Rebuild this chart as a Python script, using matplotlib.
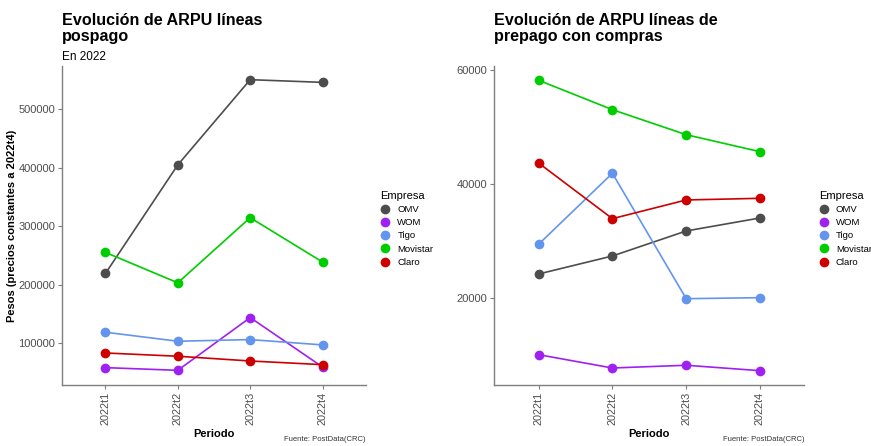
import matplotlib.pyplot as plt
from matplotlib.lines import Line2D

plt.rcParams['font.family'] = ['Liberation Sans', 'DejaVu Sans']

periodos = ["2022t1", "2022t2", "2022t3", "2022t4"]
empresas = ["OMV", "WOM", "Tigo", "Movistar", "Claro"]
colores = ["#4D4D4D", "#A020F0", "#6495ED", "#00CD00", "#CD0000"]

# ARPU pospago (pesos constantes 2022t4)
pos_omv = [218900, 404800, 550600, 546000]
pos_wom = [57700, 53100, 143400, 58800]
pos_tigo = [118300, 102900, 105700, 96600]
pos_movistar = [254900, 202900, 314400, 238400]
pos_claro = [82800, 77200, 69100, 62800]

# ARPU prepago con compras
pre_omv = [24260, 27420, 31810, 34090]
pre_wom = [10110, 7770, 8250, 7300]
pre_tigo = [29470, 41930, 19930, 20110]
pre_movistar = [58250, 53090, 48700, 45720]
pre_claro = [43740, 33970, 37250, 37540]

pospago = [pos_omv, pos_wom, pos_tigo, pos_movistar, pos_claro]
prepago = [pre_omv, pre_wom, pre_tigo, pre_movistar, pre_claro]

fig = plt.figure(figsize=(8.71, 4.46), dpi=100)
ax1 = fig.add_axes([0.0712, 0.1368, 0.349, 0.7152])
ax2 = fig.add_axes([0.5675, 0.1368, 0.3559, 0.7152])


def panel(ax, series, ylim, yticks, legx):
    x = range(len(periodos))
    for vals, c in zip(series, colores):
        ax.plot(x, vals, color=c, lw=1.2, zorder=2)
        ax.plot(x, vals, 'o', color=c, ms=7, mec='none', zorder=3)
    ax.set_xlim(-0.6, len(periodos) - 0.4)
    ax.set_ylim(*ylim)
    ax.set_yticks(yticks)
    ax.set_yticklabels([str(v) for v in yticks], fontsize=8, color='#4D4D4D')
    ax.set_xticks(list(x))
    ax.set_xticklabels(periodos, rotation=90, fontsize=7.8, color='#4D4D4D')
    for s in ['top', 'right']:
        ax.spines[s].set_visible(False)
    for s in ['left', 'bottom']:
        ax.spines[s].set_color('#7F7F7F')
        ax.spines[s].set_linewidth(1.0)
    ax.tick_params(length=3, color='#7F7F7F', pad=2)
    ax.set_xlabel("Periodo", fontsize=8, fontweight='bold', labelpad=3)
    handles = [Line2D([], [], marker='o', ls='none', color=c, ms=7, mec='none')
               for c in colores]
    ax.legend(handles, empresas, title="Empresa", loc='center left',
              bbox_to_anchor=(legx, 0.49), frameon=False, fontsize=6.8,
              title_fontsize=8, alignment='left', handlelength=1.0,
              handletextpad=0.8, labelspacing=0.45, borderpad=0)
    ax.text(1.0, -0.16, "Fuente: PostData(CRC)", transform=ax.transAxes,
            ha='right', va='top', fontsize=5.5, color='#333333')


panel(ax1, pospago, (28000, 574000), [100000, 200000, 300000, 400000, 500000], 1.032)
panel(ax2, prepago, (4790, 60750), [20000, 40000, 60000], 1.032)

ax1.set_ylabel("Pesos (precios constantes a 2022t4)", fontsize=8,
               fontweight='bold', labelpad=1)

fig.text(62 / 871, 1 - 13 / 446, "Evolución de ARPU líneas\npospago",
         fontsize=11.6, fontweight='bold', va='top', ha='left', linespacing=1.12)
fig.text(62 / 871, 1 - 51 / 446, "En 2022", fontsize=8.5, va='top', ha='left')
fig.text(494 / 871, 1 - 13 / 446, "Evolución de ARPU líneas de\nprepago con compras",
         fontsize=11.6, fontweight='bold', va='top', ha='left', linespacing=1.12)

fig.savefig("out.png", dpi=100, facecolor='white')
